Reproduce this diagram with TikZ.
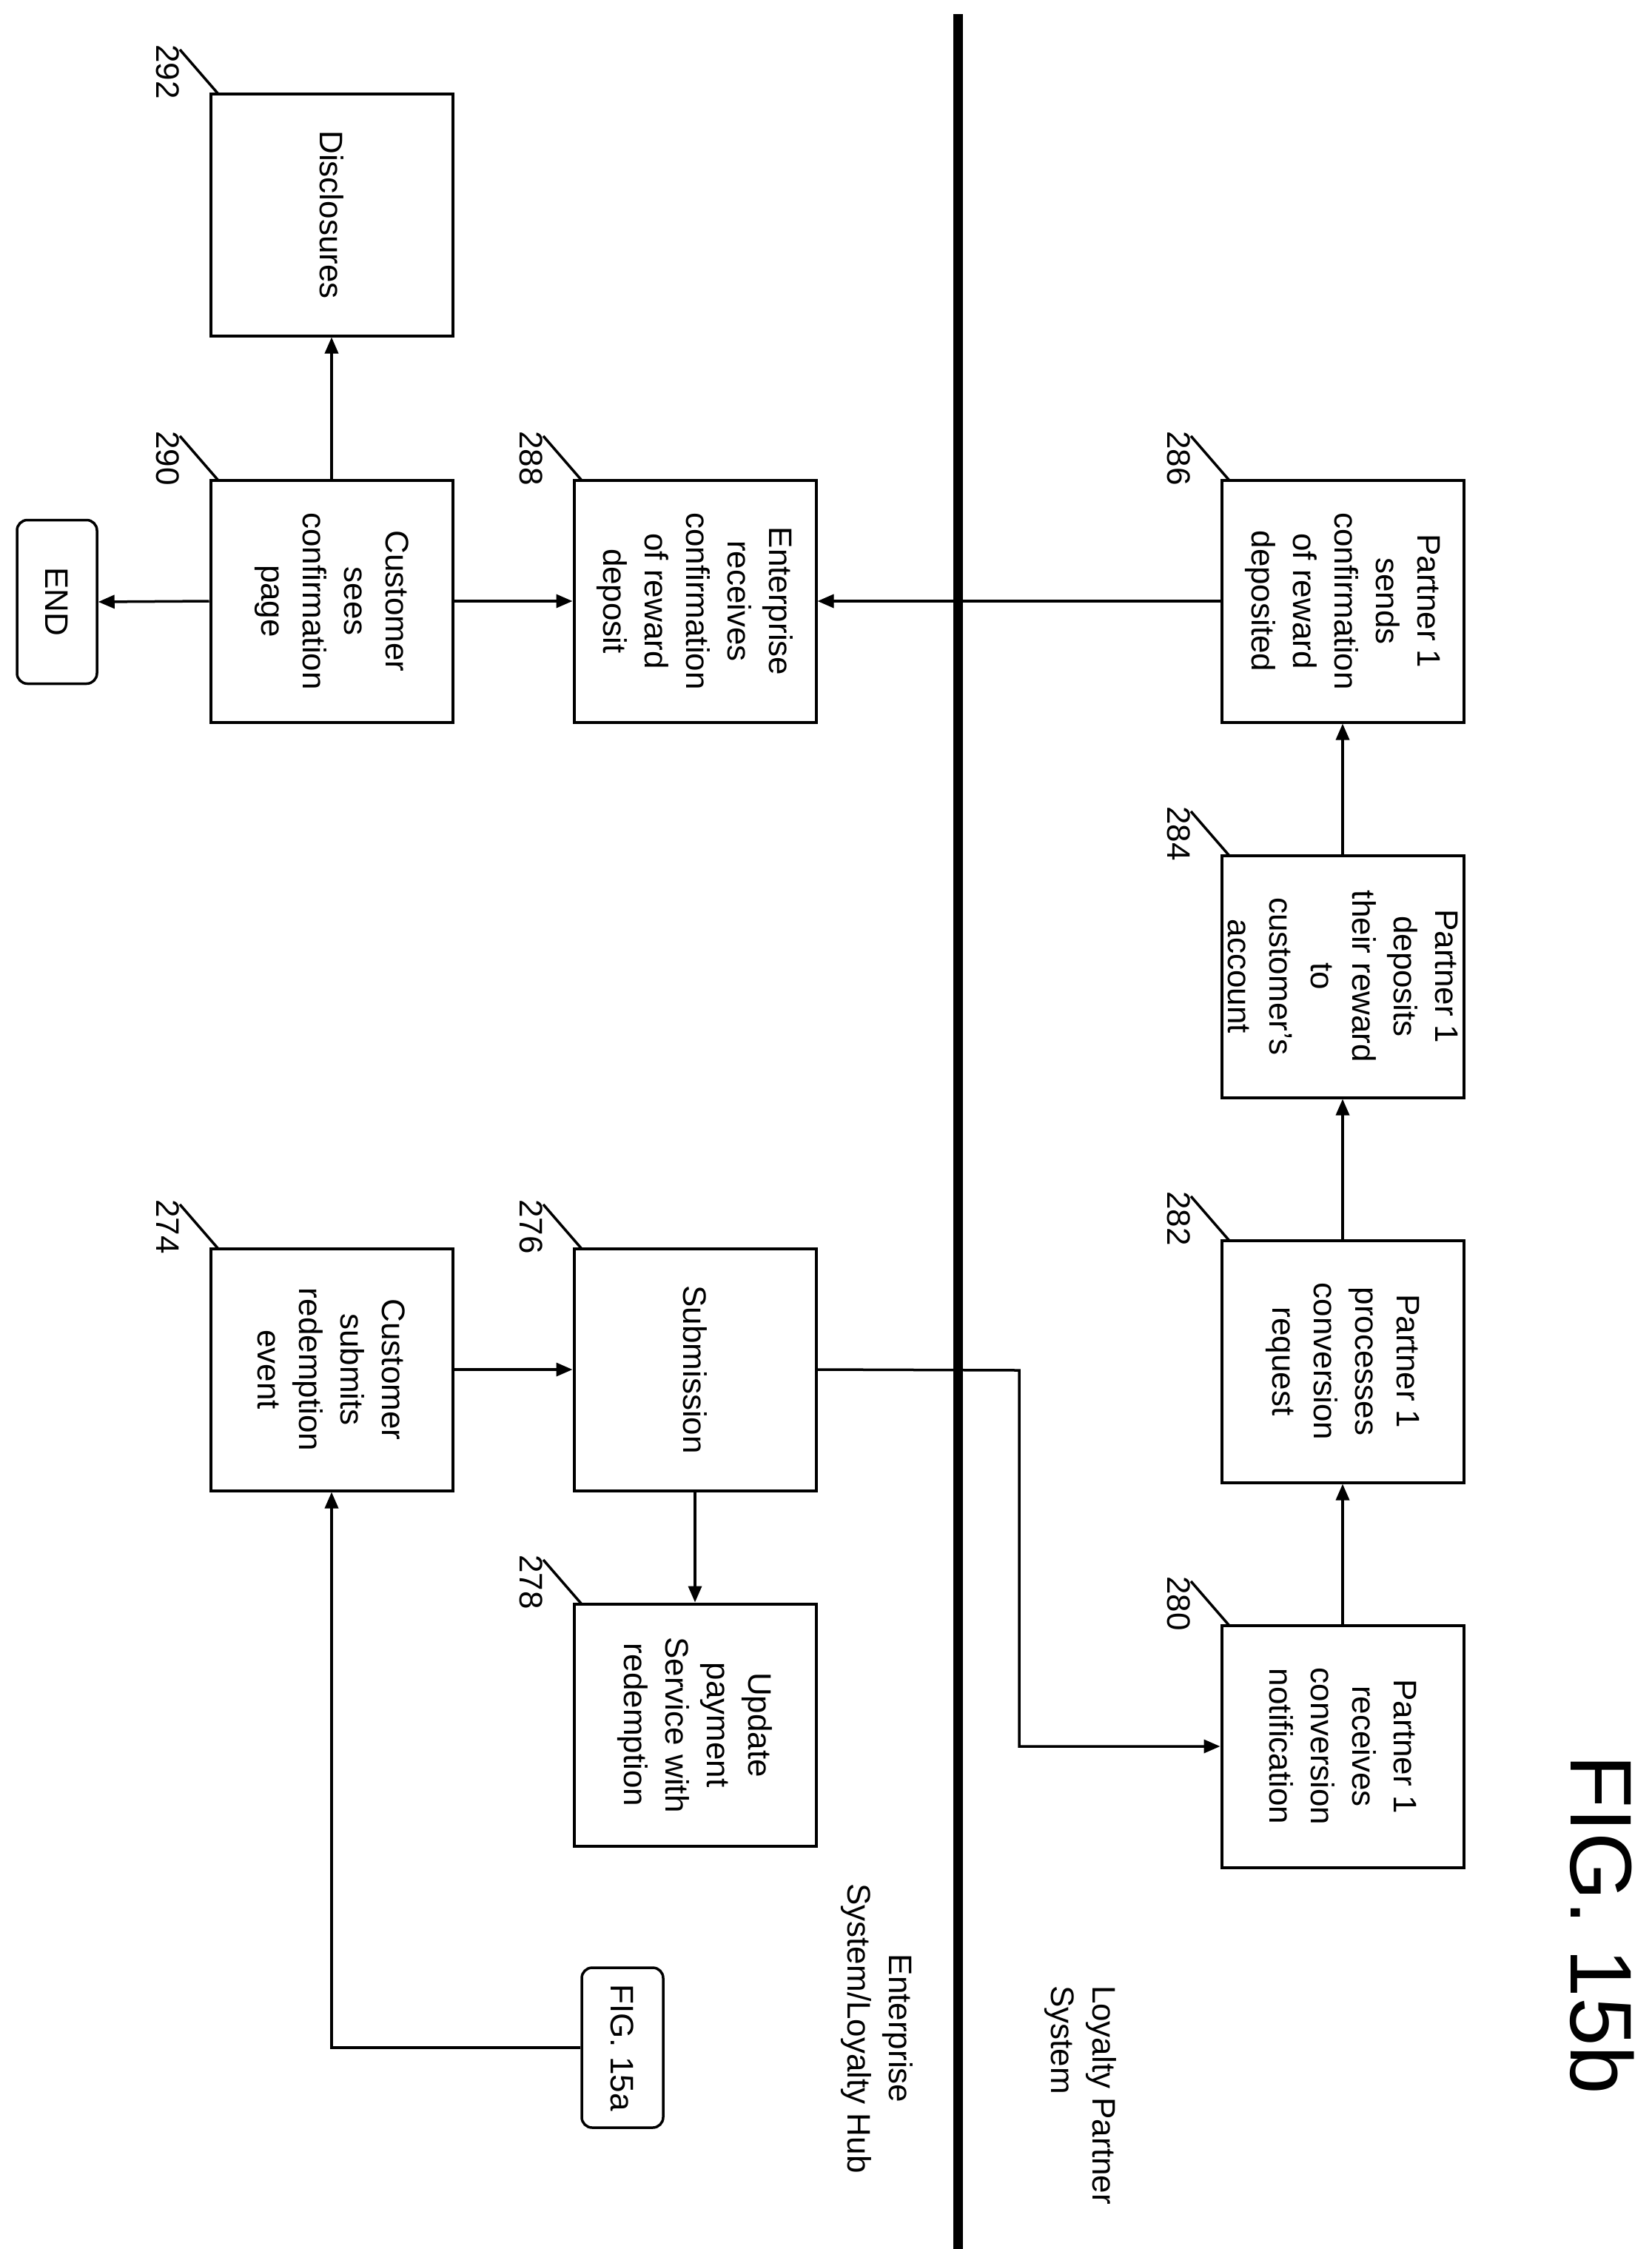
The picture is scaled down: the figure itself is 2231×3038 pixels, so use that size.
\documentclass[tikz,border=0pt]{standalone}
\usepackage{fontspec}
\setmainfont{Liberation Sans}
\usetikzlibrary{arrows.meta}
\begin{document}
\begin{tikzpicture}[x=1pt,y=-1pt,
  box/.style={draw,line width=4pt,inner sep=0pt},
  txt/.style={rotate=-90,align=center,font=\fontsize{44}{56}\selectfont},
  num/.style={rotate=-90,font=\fontsize{44}{56}\selectfont},
  arr/.style={line width=3.5pt,-{Triangle[length=22pt,width=18pt]}},
  lead/.style={line width=3.5pt}]
\useasboundingbox (0,0) rectangle (2231,3038);
\draw[line width=13pt] (1294,19) -- (1294,3038);
% boxes: \bx{name}{xl}{yt}
\newcommand\bx[5]{%
  \node[box,minimum width=327pt,minimum height=327pt] (#1) at (#2+163,#3+163) {};
  \node[txt] at (#1) {#4};
  \node[num] at (#2-58,#3-30) {#5};
  \draw[lead] (#2-42,#3-60) -- (#2+10,#3+0);}
\bx{b292}{285}{127}{Disclosures}{292}
\bx{b290}{285}{649}{Customer\\sees\\confirmation\\page}{290}
\bx{b288}{776}{649}{Enterprise\\receives\\confirmation\\of reward\\deposit}{288}
\bx{b286}{1651}{649}{Partner 1\\sends\\confirmation\\of reward\\deposited}{286}
\bx{b284}{1651}{1156}{Partner 1\\deposits\\their reward\\to\\customer's\\account}{284}
\bx{b282}{1651}{1676}{Partner 1\\processes\\conversion\\request}{282}
\bx{b280}{1651}{2196}{Partner 1\\receives\\conversion\\notification}{280}
\bx{b274}{285}{1687}{Customer\\submits\\redemption\\event}{274}
\bx{b276}{776}{1687}{Submission}{276}
\bx{b278}{776}{2167}{Update\\payment\\Service with\\redemption}{278}
\node[draw,line width=3.5pt,rounded corners=14pt,minimum width=108pt,minimum height=221pt,inner sep=0pt] (end) at (77,813) {};
\node[txt] at (end) {END};
\node[draw,line width=3.5pt,rounded corners=14pt,minimum width=110pt,minimum height=216pt,inner sep=0pt] (f15a) at (841,2766) {};
\node[txt] at (f15a) {FIG. 15a};
\node[txt,anchor=center] at (1185,2740) {Enterprise\\System/Loyalty Hub};
\node[txt,align=left] at (1460,2830) {Loyalty Partner\\System};
\node[rotate=-90,font=\fontsize{118}{130}\selectfont] at (2165,2600) {FIG. 15b};
% arrows
\draw[arr] (b290.west) -- (end.east);
\draw[arr] (b290.north) -- (b292.south);
\draw[arr] (b290.east) -- (b288.west);
\draw[arr] (b286.west) -- (b288.east);
\draw[arr] (b284.north) -- (b286.south);
\draw[arr] (b282.north) -- (b284.south);
\draw[arr] (b280.north) -- (b282.south);
\draw[arr] (f15a.west) -| (b274.south);
\draw[arr] (b274.east) -- (b276.west);
\draw[arr] (b276.south) -- (b278.north);
\coordinate (k1) at (1377,1851);
\draw[arr] (b276.east) -- (k1) |- (b280.west);
\end{tikzpicture}
\end{document}
